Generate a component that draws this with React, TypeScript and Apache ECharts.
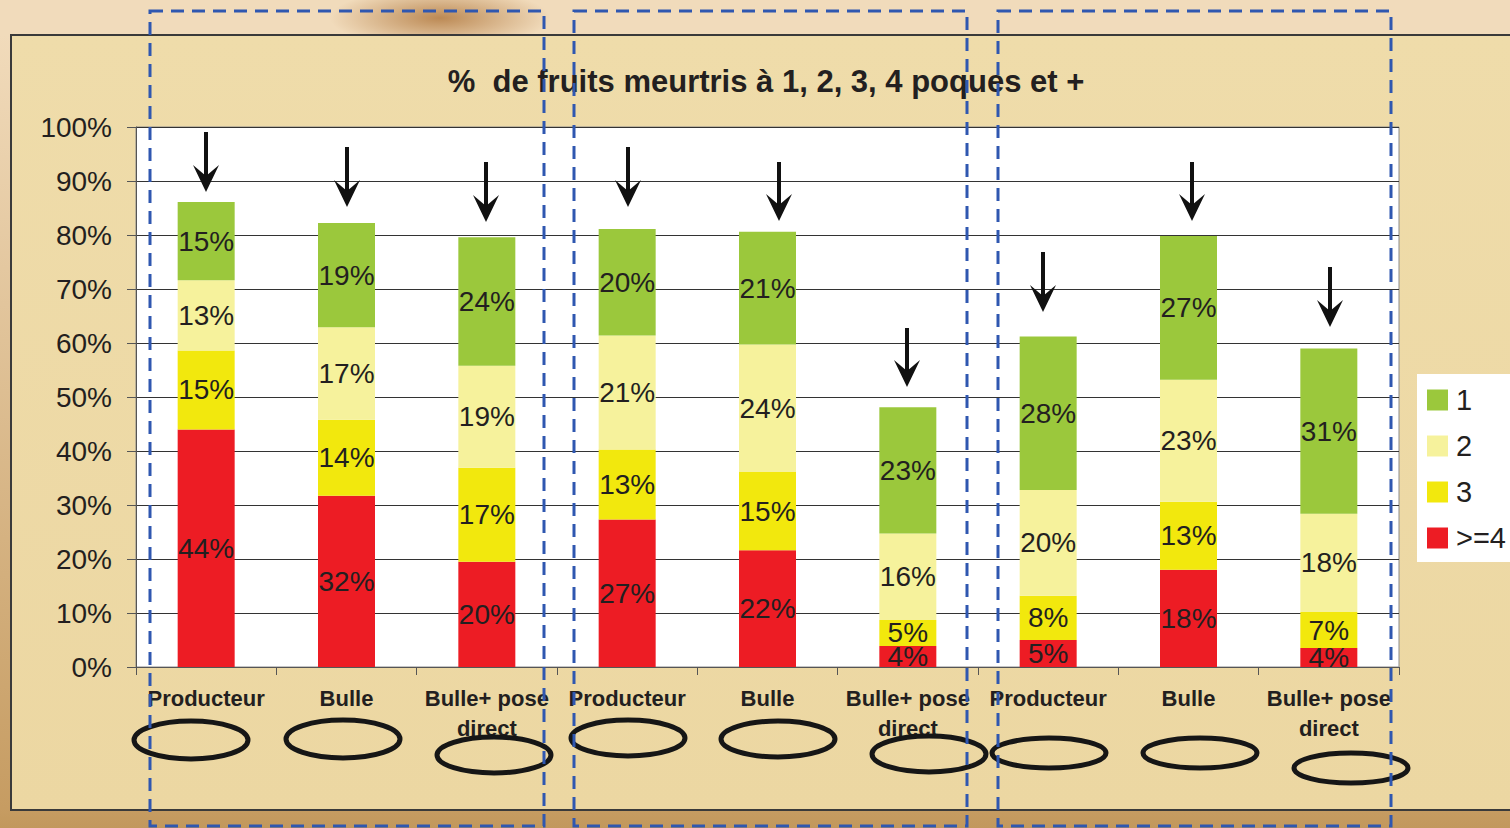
import React, { useEffect, useRef } from 'react';
import * as echarts from 'echarts';

const categories = [
  'Producteur', 'Bulle', 'Bulle+ pose\ndirect',
  'Producteur', 'Bulle', 'Bulle+ pose\ndirect',
  'Producteur', 'Bulle', 'Bulle+ pose\ndirect',
];
const legendOrder = ['1', '2', '3', '>=4'];
const seriesGe4 = [44.0, 31.7, 19.5, 27.3, 21.6, 3.9, 5.0, 18.0, 3.5];
const series3 = [14.6, 14.1, 17.4, 13.0, 14.5, 4.8, 8.2, 12.6, 6.7];
const series2 = [13.0, 17.1, 18.9, 21.1, 23.6, 16.0, 19.6, 22.6, 18.2];
const series1 = [14.5, 19.3, 23.8, 19.7, 20.9, 23.4, 28.4, 26.6, 30.6];
const titleText = '%  de fruits meurtris à 1, 2, 3, 4 poques et +';

// annotation positions (pixels)
const arrows = [
  [206, 132, 192], [347, 147, 207], [486, 162, 222],
  [628, 147, 207], [779, 162, 221], [907, 328, 387],
  [1043, 252, 312], [1192, 162, 221], [1330, 267, 327],
];
const ellipses = [
  [191, 740, 57, 19], [343, 739, 57, 19], [494, 755, 57, 18],
  [628, 738, 57, 18], [778, 739, 57, 18], [929, 754, 57, 18],
  [1049, 753, 57, 15], [1200, 753, 57, 15], [1351, 768, 57, 15],
];
const dashedBoxes = [
  [150, 544], [574, 967], [998, 1391],
];

const FONT = '"Liberation Sans", Arial, sans-serif';
const TXT = '#231f20';

export default function App() {
  const ref = useRef<HTMLDivElement>(null);
  useEffect(() => {
    document.body.style.margin = '0';
    const chart = echarts.init(ref.current!, null, { renderer: 'svg' });
    const mk = (name: string, data: number[], color: string) => ({
      name,
      type: 'bar',
      stack: 'total',
      data,
      barWidth: 57,
      itemStyle: { color },
      label: {
        show: true,
        position: 'inside',
        formatter: (p: any) => Math.round(p.value) + '%',
        fontSize: 28,
        fontFamily: FONT,
        color: TXT,
      },
    });
    const graphics: any[] = [];
    graphics.push({
      type: 'text',
      x: 766,
      y: 81,
      z: 100,
      style: {
        text: titleText,
        font: `bold 31px ${FONT}`,
        fill: TXT,
        textAlign: 'center',
        textVerticalAlign: 'middle',
      },
    });
    arrows.forEach(([x, y1, y2]) => {
      graphics.push({
        type: 'line',
        z: 100,
        shape: { x1: x, y1, x2: x, y2: y2 - 14 },
        style: { stroke: '#111', lineWidth: 4 },
      });
      graphics.push({
        type: 'polygon',
        z: 100,
        shape: { points: [[x, y2], [x - 13, y2 - 27], [x, y2 - 16], [x + 13, y2 - 27]] },
        style: { fill: '#111' },
      });
    });
    ellipses.forEach(([cx, cy, rx, ry]) => {
      graphics.push({
        type: 'ellipse',
        z: 100,
        shape: { cx, cy, rx, ry },
        style: { fill: 'none', stroke: '#161616', lineWidth: 5 },
      });
    });
    dashedBoxes.forEach(([l, r]) => {
      graphics.push({
        type: 'rect',
        z: 101,
        shape: { x: l, y: 11, width: r - l, height: 815 },
        style: { fill: 'none', stroke: '#2f57b0', lineWidth: 3, lineDash: [13, 8] },
      });
    });

    chart.setOption({
      animation: false,
      textStyle: { fontFamily: FONT },
      grid: {
        left: 136,
        right: 111,
        top: 127,
        bottom: 161,
        show: true,
        backgroundColor: '#ffffff',
        borderColor: '#8a8a8a',
        borderWidth: 1,
      },
      legend: {
        data: legendOrder,
        orient: 'vertical',
        left: 1417,
        top: 374,
        backgroundColor: '#ffffff',
        padding: [11, 12, 9, 10],
        itemGap: 16,
        itemWidth: 21,
        itemHeight: 21,
        icon: 'rect',
        textStyle: { fontSize: 29, lineHeight: 30, color: TXT, fontFamily: FONT, padding: [0, 0, 0, 3] },
      },
      xAxis: {
        type: 'category',
        data: categories,
        axisLine: { lineStyle: { color: '#555', width: 1 } },
        axisTick: { show: true, length: 8, interval: 0, lineStyle: { color: '#555' } },
        axisLabel: {
          interval: 0,
          fontSize: 22,
          fontWeight: 'bold',
          lineHeight: 30,
          margin: 16,
          color: TXT,
          fontFamily: FONT,
        },
      },
      yAxis: {
        type: 'value',
        min: 0,
        max: 100,
        interval: 10,
        axisLine: { show: true, lineStyle: { color: '#555' } },
        axisTick: { show: true, length: 9, lineStyle: { color: '#555' } },
        axisLabel: { formatter: '{value}%', fontSize: 28, color: TXT, margin: 24, fontFamily: FONT },
        splitLine: { lineStyle: { color: '#333', width: 1 } },
      },
      series: [
        mk('>=4', seriesGe4, '#ed1c24'),
        mk('3', series3, '#f2e80d'),
        mk('2', series2, '#f6f29c'),
        mk('1', series1, '#9bc83c'),
      ],
      graphic: graphics,
    });
    return () => chart.dispose();
  }, []);

  return (
    <div
      style={{
        position: 'absolute',
        left: 0,
        top: 0,
        width: 1510,
        height: 828,
        overflow: 'hidden',
        background:
          'radial-gradient(ellipse 110px 30px at 440px 18px, rgba(170,110,50,0.75), rgba(170,110,50,0) 100%), linear-gradient(to bottom, #f1dbbb 0px, #f1dbbb 34px, #c69c62 809px, #c2985c 828px)',
      }}
    >
      <div
        style={{
          position: 'absolute',
          left: 10,
          top: 34,
          width: 1510,
          height: 773,
          border: '2px solid #3a3a3a',
          background: 'linear-gradient(to bottom, #efdcaa, #ecd7a2)',
        }}
      />
      <div ref={ref} style={{ position: 'absolute', left: 0, top: 0, width: 1510, height: 828 }} />
    </div>
  );
}
